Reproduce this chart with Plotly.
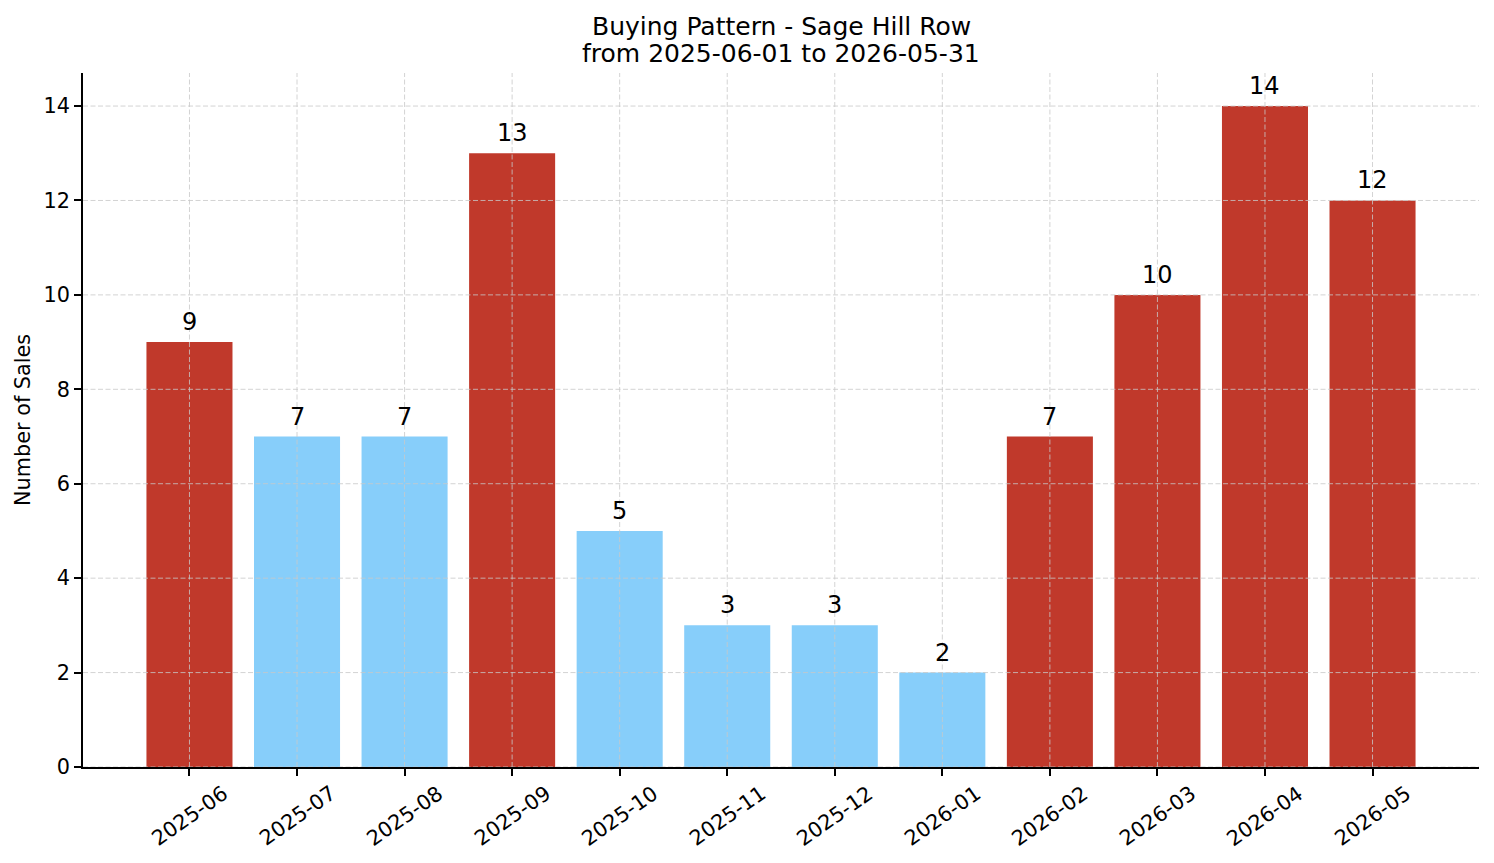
import plotly.graph_objects as go

# ---- data ----
months = ["2025-06", "2025-07", "2025-08", "2025-09", "2025-10", "2025-11",
          "2025-12", "2026-01", "2026-02", "2026-03", "2026-04", "2026-05"]
sales = [9, 7, 7, 13, 5, 3, 3, 2, 7, 10, 14, 12]
peak = [True, False, False, True, False, False, False, False, True, True, True, True]
y_ticks = [0, 2, 4, 6, 8, 10, 12, 14]
title_lines = ["Buying Pattern - Sage Hill Row", "from 2025-06-01 to 2026-05-31"]
y_label = "Number of Sales"

RED = "#C0392B"
BLUE = "#87CEFA"
FONT = "DejaVu Sans"
FS = 20.8
LABEL_FS = 24
GRID = "rgba(200,200,200,0.8)"
DASH = "5px,2.5px"

colors = [RED if p else BLUE for p in peak]

fig = go.Figure()
fig.add_trace(go.Bar(
    x=months, y=sales, marker=dict(color=colors, line=dict(width=0)),
    width=0.8, hoverinfo="x+y",
))

shapes = []
for t in y_ticks:
    shapes.append(dict(type="line", xref="paper", yref="y", x0=0, x1=1, y0=t, y1=t,
                       line=dict(color=GRID, width=1, dash=DASH), layer="above"))
for m in months:
    shapes.append(dict(type="line", xref="x", yref="paper", x0=m, x1=m, y0=0, y1=1,
                       line=dict(color=GRID, width=1, dash=DASH), layer="above"))

annotations = [
    dict(text=title_lines[0], xref="paper", yref="paper", x=0.5, y=1, xanchor="center",
         yanchor="middle", yshift=47, showarrow=False, font=dict(family=FONT, size=25, color="black")),
    dict(text=title_lines[1], xref="paper", yref="paper", x=0.5, y=1, xanchor="center",
         yanchor="middle", yshift=20, showarrow=False, font=dict(family=FONT, size=25, color="black")),
    dict(text=y_label, xref="paper", yref="paper", x=0, y=0.5, xanchor="center", yanchor="middle",
         xshift=-60, textangle=-90, showarrow=False, font=dict(family=FONT, size=FS, color="black")),
]
for m in months:
    annotations.append(dict(text=m, xref="x", yref="paper", x=m, y=0, xanchor="center",
                            yanchor="top", yshift=-11, textangle=-35, showarrow=False,
                            font=dict(family=FONT, size=FS, color="black")))
for m, v in zip(months, sales):
    annotations.append(dict(text=str(v), xref="x", yref="y", x=m, y=v, xanchor="center",
                            yanchor="bottom", yshift=4, showarrow=False,
                            font=dict(family=FONT, size=LABEL_FS, color="black")))

fig.update_layout(
    width=1494, height=863,
    margin=dict(l=83, r=15, t=73, b=96),
    paper_bgcolor="white", plot_bgcolor="white",
    font=dict(family=FONT, size=FS, color="black"),
    showlegend=False,
    shapes=shapes, annotations=annotations,
    xaxis=dict(type="category", categoryorder="array", categoryarray=months,
               range=[-0.99, 11.99], showgrid=False, showline=True, linecolor="black",
               linewidth=1.6, ticks="outside", ticklen=7, tickwidth=1.6, tickcolor="black",
               showticklabels=False, zeroline=False),
    yaxis=dict(range=[0, 14.7], tickvals=y_ticks, showgrid=False, showline=True,
               linecolor="black", linewidth=1.6, ticks="outside", ticklen=7, tickwidth=1.6,
               tickcolor="black", tickfont=dict(family=FONT, size=FS, color="black"),
               zeroline=False),
)

fig.write_html("out.html")
